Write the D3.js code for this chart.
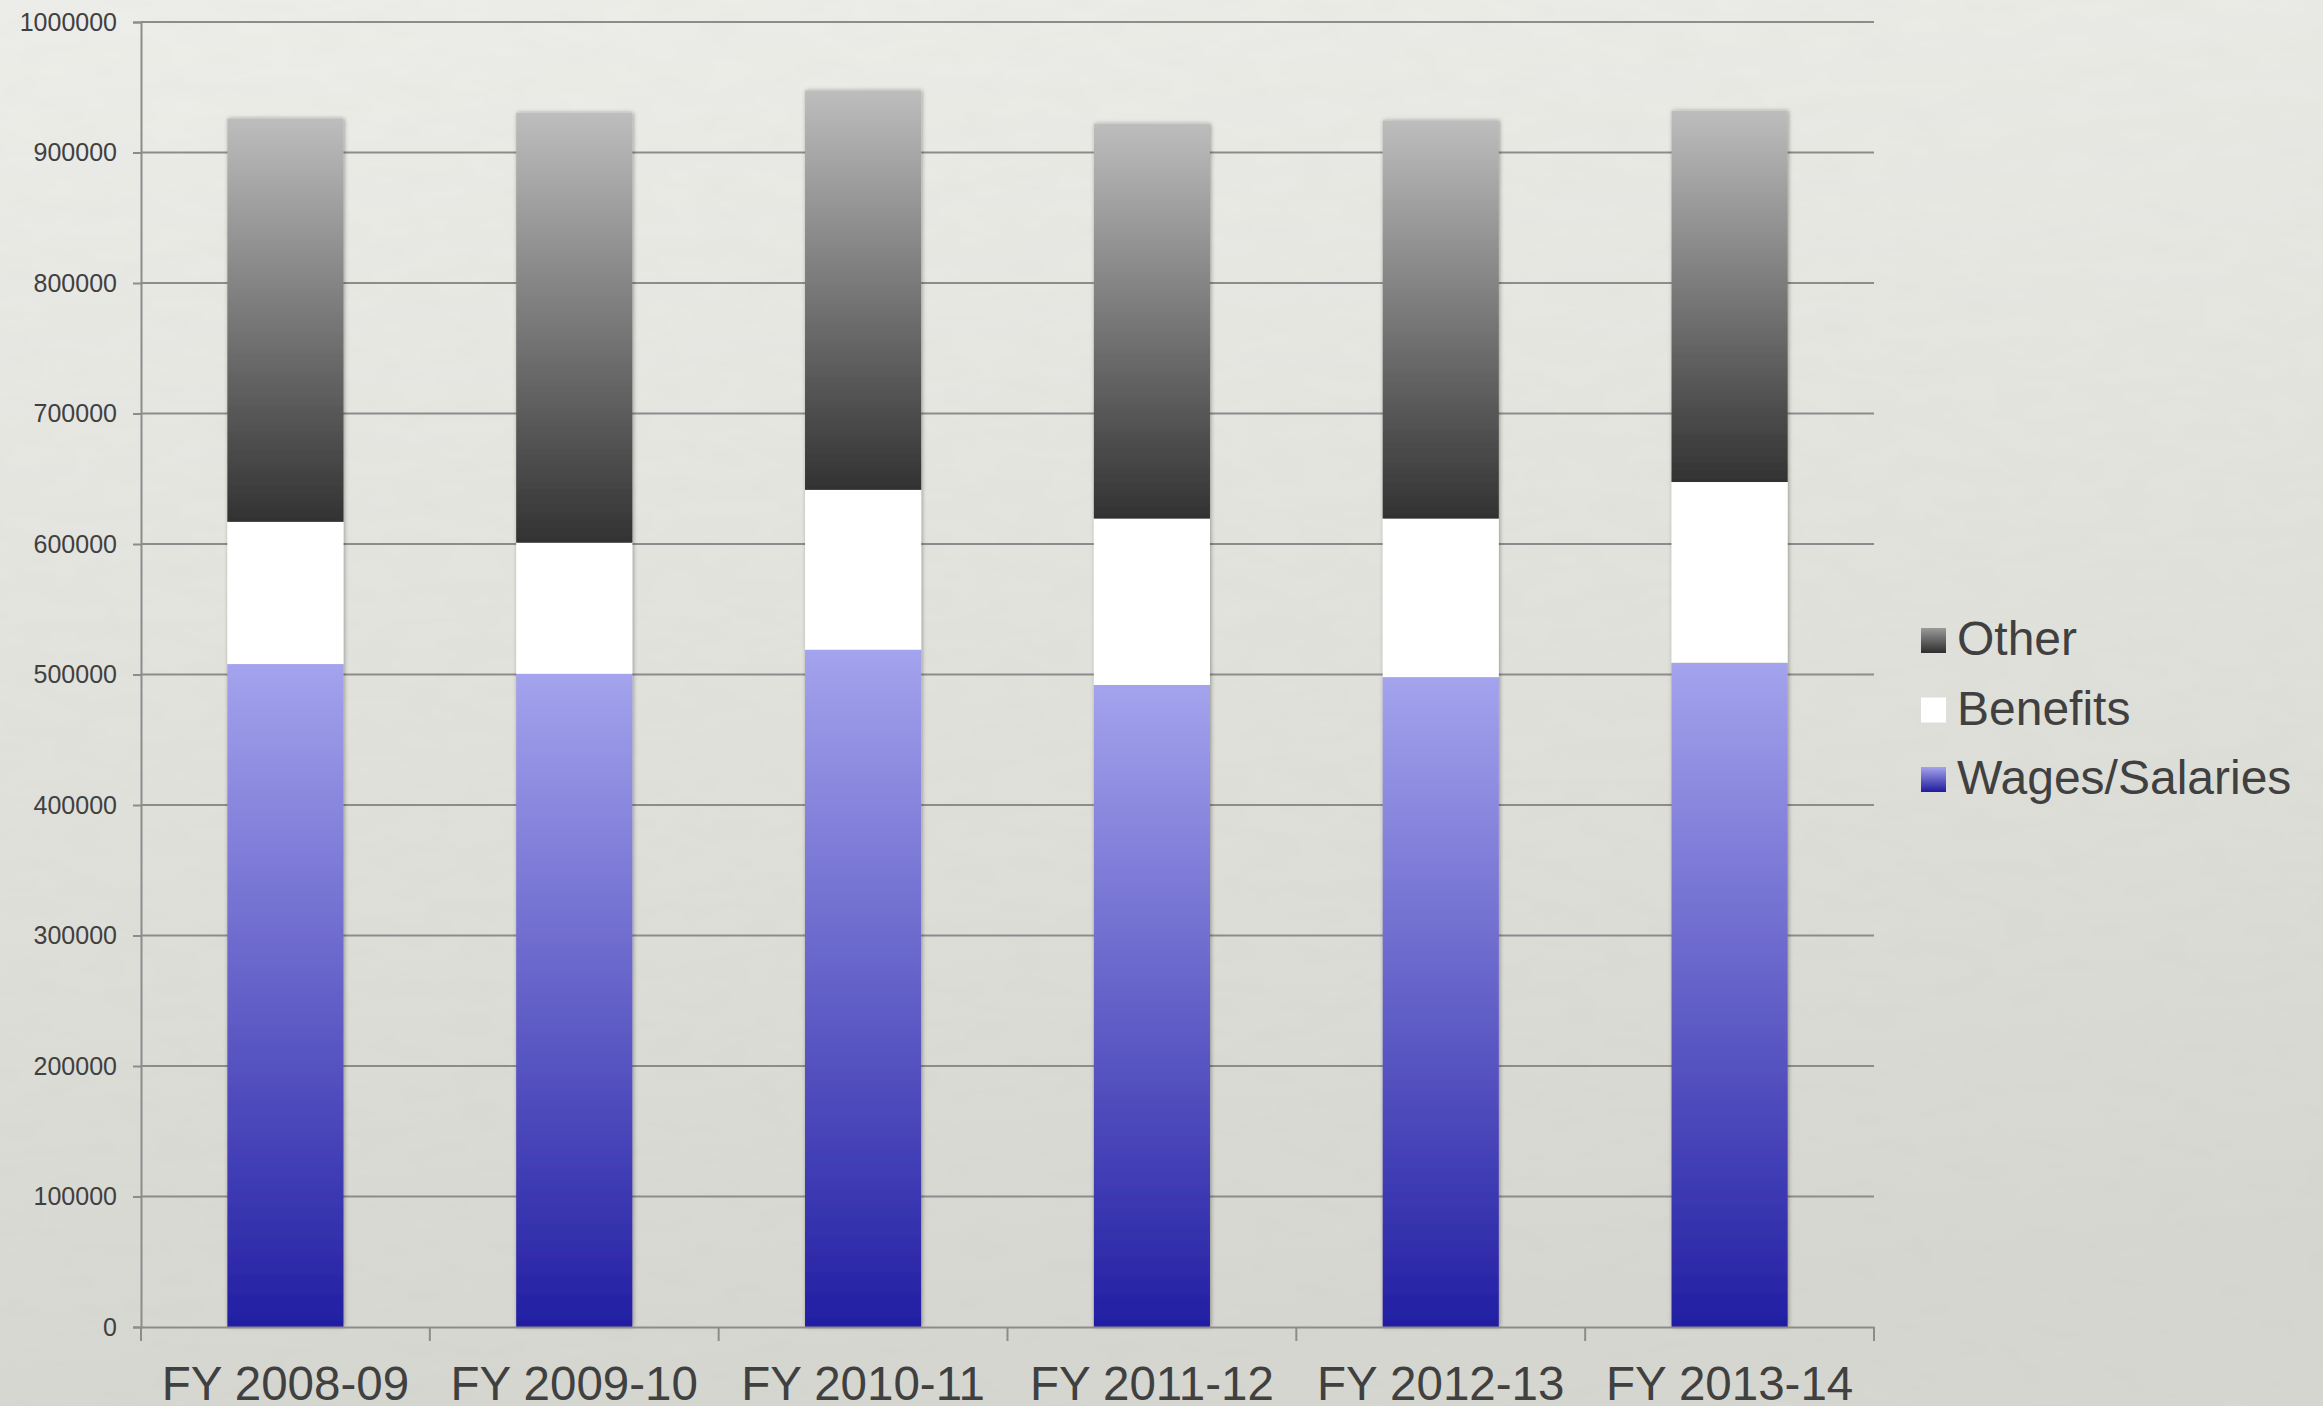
<!DOCTYPE html>
<html>
<head>
<meta charset="utf-8">
<script src="https://cdn.jsdelivr.net/npm/d3@7/dist/d3.min.js"></script>
<style>
  html, body { margin: 0; padding: 0; }
  body { width: 2323px; height: 1406px; overflow: hidden; }
  svg { display: block; font-family: "Liberation Sans", Arial, Helvetica, sans-serif; }
</style>
</head>
<body>
<svg width="2323" height="1406"></svg>
<script>
// values
var years = ["FY 2008-09", "FY 2009-10", "FY 2010-11", "FY 2011-12", "FY 2012-13", "FY 2013-14"];
var wages = [508000, 500500, 519000, 492000, 498000, 509000];
var benefits = [109000, 100500, 122500, 127500, 121500, 138500];
var other = [309000, 329500, 306000, 302500, 305000, 284500];
var seriesNames = ["Wages/Salaries", "Benefits", "Other"];
var yTicks = [0, 100000, 200000, 300000, 400000, 500000, 600000, 700000, 800000, 900000, 1000000];

var svg = d3.select("svg");
var width = +svg.attr("width"),
    height = +svg.attr("height");

var plotLeft = 141, plotRight = 1874, plotTop = 22, plotBottom = 1327;
var textColor = "#404040", lineColor = "#8c8c8c";

var defs = svg.append("defs");

// background
var bg = defs.append("linearGradient").attr("id", "bg")
    .attr("x1", 0).attr("y1", 0).attr("x2", 0.15).attr("y2", 1);
bg.append("stop").attr("offset", 0).attr("stop-color", "#eeeeea");
bg.append("stop").attr("offset", 0.5).attr("stop-color", "#e3e3de");
bg.append("stop").attr("offset", 1).attr("stop-color", "#d6d7d0");

var noise = defs.append("filter").attr("id", "noise")
    .attr("x", 0).attr("y", 0).attr("width", "100%").attr("height", "100%");
noise.append("feTurbulence").attr("type", "fractalNoise")
    .attr("baseFrequency", "0.02 0.05").attr("numOctaves", 2).attr("seed", 3);
noise.append("feColorMatrix").attr("type", "matrix")
    .attr("values", "0 0 0 0 0.5  0 0 0 0 0.5  0 0 0 0 0.48  0 0 0 0.08 0");

var gOther = defs.append("linearGradient").attr("id", "gOther")
    .attr("x1", 0).attr("y1", 0).attr("x2", 0).attr("y2", 1);
gOther.append("stop").attr("offset", 0).attr("stop-color", "#bdbdbd");
gOther.append("stop").attr("offset", 1).attr("stop-color", "#323232");

var gWages = defs.append("linearGradient").attr("id", "gWages")
    .attr("x1", 0).attr("y1", 0).attr("x2", 0).attr("y2", 1);
gWages.append("stop").attr("offset", 0).attr("stop-color", "#a4a3ed");
gWages.append("stop").attr("offset", 1).attr("stop-color", "#221ea3");

var shadow = defs.append("filter").attr("id", "shadow")
    .attr("x", "-10%").attr("y", "-5%").attr("width", "120%").attr("height", "110%");
shadow.append("feDropShadow").attr("dx", 1).attr("dy", 0)
    .attr("stdDeviation", 2).attr("flood-color", "#000").attr("flood-opacity", 0.35);

svg.append("rect").attr("width", width).attr("height", height).attr("fill", "url(#bg)");
svg.append("rect").attr("width", width).attr("height", height).attr("filter", "url(#noise)");

var x = d3.scaleBand()
    .domain(years)
    .range([plotLeft, plotRight])
    .paddingInner(0.598)
    .paddingOuter(0.299);

var y = d3.scaleLinear()
    .domain([0, 1000000])
    .range([plotBottom, plotTop]);

// gridlines
svg.append("g")
    .selectAll("line")
    .data(yTicks.slice(1))
  .enter().append("line")
    .attr("x1", plotLeft).attr("x2", plotRight)
    .attr("y1", function(d) { return y(d); })
    .attr("y2", function(d) { return y(d); })
    .attr("stroke", lineColor)
    .attr("stroke-width", 2);

// y axis
var yAxis = svg.append("g")
    .attr("transform", "translate(" + plotLeft + ",0)")
    .call(d3.axisLeft(y).tickValues(yTicks).tickFormat(d3.format("d")).tickSize(8).tickPadding(16));
yAxis.select(".domain").attr("stroke", lineColor).attr("stroke-width", 2);
yAxis.selectAll(".tick line").attr("stroke", lineColor).attr("stroke-width", 2);
yAxis.selectAll("text").attr("fill", textColor).style("font-size", "25px");

// stacked bars
var rows = years.map(function(yr, i) {
  return { year: yr, "Wages/Salaries": wages[i], "Benefits": benefits[i], "Other": other[i] };
});
var stacked = d3.stack().keys(seriesNames)(rows);
var fills = { "Wages/Salaries": "url(#gWages)", "Benefits": "#ffffff", "Other": "url(#gOther)" };

var barsG = svg.append("g").attr("class", "bars");
years.forEach(function(yr, i) {
  var g = barsG.append("g").attr("filter", "url(#shadow)");
  stacked.forEach(function(layer) {
    var d = layer[i];
    g.append("rect")
        .attr("x", x(yr))
        .attr("width", x.bandwidth())
        .attr("y", y(d[1]))
        .attr("height", y(d[0]) - y(d[1]))
        .attr("fill", fills[layer.key]);
  });
});

// x axis
var xAxis = svg.append("g")
    .attr("transform", "translate(0," + plotBottom + ")")
    .call(d3.axisBottom(x).tickSize(0).tickPadding(39));
xAxis.select(".domain").attr("stroke", lineColor).attr("stroke-width", 2);
xAxis.selectAll("text").attr("fill", textColor).style("font-size", "47.5px");

var bounds = years.map(function(yr) { return x(yr) - x.step() * x.paddingInner() / 2; });
bounds.push(plotRight);
xAxis.selectAll(".bound")
    .data(bounds)
  .enter().append("line")
    .attr("x1", function(d) { return d; })
    .attr("x2", function(d) { return d; })
    .attr("y1", 0).attr("y2", 14)
    .attr("stroke", lineColor)
    .attr("stroke-width", 2);

// legend
var gOtherL = defs.append("linearGradient").attr("id", "gOtherL")
    .attr("x1", 0).attr("y1", 0).attr("x2", 0).attr("y2", 1);
gOtherL.append("stop").attr("offset", 0).attr("stop-color", "#9a9a9a");
gOtherL.append("stop").attr("offset", 1).attr("stop-color", "#2e2e2e");
var gWagesL = defs.append("linearGradient").attr("id", "gWagesL")
    .attr("x1", 0).attr("y1", 0).attr("x2", 0).attr("y2", 1);
gWagesL.append("stop").attr("offset", 0).attr("stop-color", "#a4a3ed");
gWagesL.append("stop").attr("offset", 1).attr("stop-color", "#1f1b9c");

var legendItems = ["Other", "Benefits", "Wages/Salaries"];
var legendFills = { "Other": "url(#gOtherL)", "Benefits": "#ffffff", "Wages/Salaries": "url(#gWagesL)" };
var legend = svg.append("g").attr("transform", "translate(1921,628)");
var item = legend.selectAll("g")
    .data(legendItems)
  .enter().append("g")
    .attr("transform", function(d, i) { return "translate(0," + (i * 69.5) + ")"; });
item.append("rect")
    .attr("width", 25).attr("height", 25)
    .attr("fill", function(d) { return legendFills[d]; });
item.append("text")
    .attr("x", 36).attr("y", 27)
    .attr("fill", textColor)
    .style("font-size", "48px")
    .text(function(d) { return d; });
</script>
</body>
</html>
